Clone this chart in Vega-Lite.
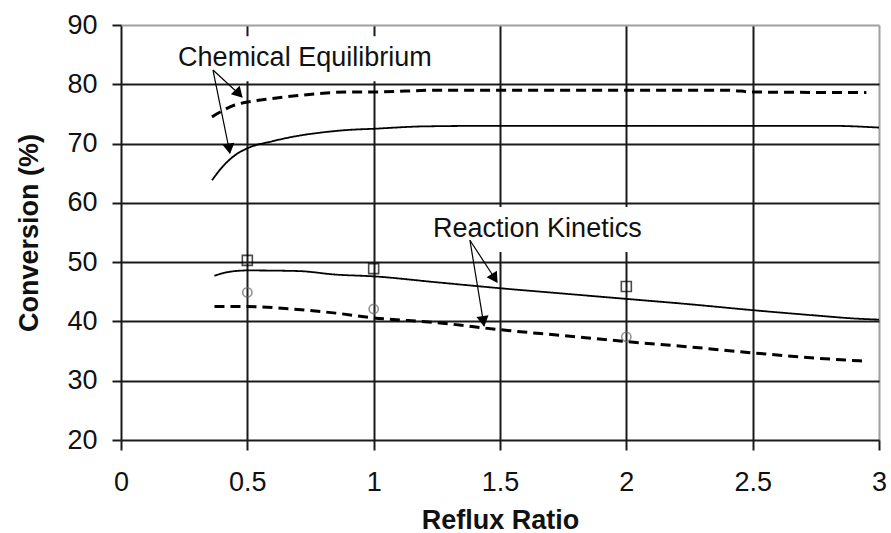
{
  "$schema": "https://vega.github.io/schema/vega-lite/v6.json",
  "width": 758,
  "height": 415,
  "autosize": {"type": "none"},
  "padding": {"left": 121, "top": 25, "right": 12, "bottom": 93},
  "background": "white",
  "config": {"view": {"stroke": null}, "font": "Liberation Sans"},
  "datasets": {
    "curves": [
      {"model": "Chemical Equilibrium", "case": "A", "ratio": 0.36, "conv": 63.8},
      {"model": "Chemical Equilibrium", "case": "A", "ratio": 0.4, "conv": 66.0},
      {"model": "Chemical Equilibrium", "case": "A", "ratio": 0.45, "conv": 68.0},
      {"model": "Chemical Equilibrium", "case": "A", "ratio": 0.5, "conv": 69.2},
      {"model": "Chemical Equilibrium", "case": "A", "ratio": 0.6, "conv": 70.4},
      {"model": "Chemical Equilibrium", "case": "A", "ratio": 0.7, "conv": 71.3},
      {"model": "Chemical Equilibrium", "case": "A", "ratio": 0.8, "conv": 71.9},
      {"model": "Chemical Equilibrium", "case": "A", "ratio": 0.9, "conv": 72.3},
      {"model": "Chemical Equilibrium", "case": "A", "ratio": 1.0, "conv": 72.5},
      {"model": "Chemical Equilibrium", "case": "A", "ratio": 1.2, "conv": 72.9},
      {"model": "Chemical Equilibrium", "case": "A", "ratio": 1.5, "conv": 73.0},
      {"model": "Chemical Equilibrium", "case": "A", "ratio": 2.0, "conv": 73.0},
      {"model": "Chemical Equilibrium", "case": "A", "ratio": 2.5, "conv": 73.0},
      {"model": "Chemical Equilibrium", "case": "A", "ratio": 2.8, "conv": 73.0},
      {"model": "Chemical Equilibrium", "case": "A", "ratio": 3.0, "conv": 72.7},
      {"model": "Chemical Equilibrium", "case": "B", "ratio": 0.36, "conv": 74.5},
      {"model": "Chemical Equilibrium", "case": "B", "ratio": 0.4, "conv": 75.5},
      {"model": "Chemical Equilibrium", "case": "B", "ratio": 0.45, "conv": 76.5},
      {"model": "Chemical Equilibrium", "case": "B", "ratio": 0.5, "conv": 77.0},
      {"model": "Chemical Equilibrium", "case": "B", "ratio": 0.6, "conv": 77.6},
      {"model": "Chemical Equilibrium", "case": "B", "ratio": 0.7, "conv": 78.1},
      {"model": "Chemical Equilibrium", "case": "B", "ratio": 0.8, "conv": 78.5},
      {"model": "Chemical Equilibrium", "case": "B", "ratio": 0.9, "conv": 78.7},
      {"model": "Chemical Equilibrium", "case": "B", "ratio": 1.0, "conv": 78.7},
      {"model": "Chemical Equilibrium", "case": "B", "ratio": 1.25, "conv": 79.0},
      {"model": "Chemical Equilibrium", "case": "B", "ratio": 1.5, "conv": 79.0},
      {"model": "Chemical Equilibrium", "case": "B", "ratio": 2.0, "conv": 79.0},
      {"model": "Chemical Equilibrium", "case": "B", "ratio": 2.4, "conv": 79.0},
      {"model": "Chemical Equilibrium", "case": "B", "ratio": 2.5, "conv": 78.7},
      {"model": "Chemical Equilibrium", "case": "B", "ratio": 2.95, "conv": 78.6},
      {"model": "Reaction Kinetics", "case": "A", "ratio": 0.37, "conv": 47.7},
      {"model": "Reaction Kinetics", "case": "A", "ratio": 0.42, "conv": 48.3},
      {"model": "Reaction Kinetics", "case": "A", "ratio": 0.5, "conv": 48.6},
      {"model": "Reaction Kinetics", "case": "A", "ratio": 0.7, "conv": 48.5},
      {"model": "Reaction Kinetics", "case": "A", "ratio": 0.85, "conv": 47.9},
      {"model": "Reaction Kinetics", "case": "A", "ratio": 1.0, "conv": 47.6},
      {"model": "Reaction Kinetics", "case": "A", "ratio": 1.25, "conv": 46.6},
      {"model": "Reaction Kinetics", "case": "A", "ratio": 1.5, "conv": 45.6},
      {"model": "Reaction Kinetics", "case": "A", "ratio": 1.75, "conv": 44.7},
      {"model": "Reaction Kinetics", "case": "A", "ratio": 2.0, "conv": 43.8},
      {"model": "Reaction Kinetics", "case": "A", "ratio": 2.25, "conv": 42.9},
      {"model": "Reaction Kinetics", "case": "A", "ratio": 2.5, "conv": 41.9},
      {"model": "Reaction Kinetics", "case": "A", "ratio": 2.75, "conv": 41.0},
      {"model": "Reaction Kinetics", "case": "A", "ratio": 2.9, "conv": 40.5},
      {"model": "Reaction Kinetics", "case": "A", "ratio": 3.0, "conv": 40.3},
      {"model": "Reaction Kinetics", "case": "B", "ratio": 0.37, "conv": 42.5},
      {"model": "Reaction Kinetics", "case": "B", "ratio": 0.5, "conv": 42.5},
      {"model": "Reaction Kinetics", "case": "B", "ratio": 0.7, "conv": 42.0},
      {"model": "Reaction Kinetics", "case": "B", "ratio": 0.85, "conv": 41.4},
      {"model": "Reaction Kinetics", "case": "B", "ratio": 1.0, "conv": 40.6},
      {"model": "Reaction Kinetics", "case": "B", "ratio": 1.25, "conv": 39.8},
      {"model": "Reaction Kinetics", "case": "B", "ratio": 1.5, "conv": 38.6},
      {"model": "Reaction Kinetics", "case": "B", "ratio": 1.75, "conv": 37.6},
      {"model": "Reaction Kinetics", "case": "B", "ratio": 2.0, "conv": 36.6},
      {"model": "Reaction Kinetics", "case": "B", "ratio": 2.25, "conv": 35.7},
      {"model": "Reaction Kinetics", "case": "B", "ratio": 2.5, "conv": 34.7},
      {"model": "Reaction Kinetics", "case": "B", "ratio": 2.75, "conv": 33.8},
      {"model": "Reaction Kinetics", "case": "B", "ratio": 2.95, "conv": 33.3}
    ],
    "experiments": [
      {"case": "A", "ratio": 0.5, "conv": 50.3},
      {"case": "A", "ratio": 1.0, "conv": 48.9},
      {"case": "A", "ratio": 2.0, "conv": 45.9},
      {"case": "B", "ratio": 0.5, "conv": 44.9},
      {"case": "B", "ratio": 1.0, "conv": 42.1},
      {"case": "B", "ratio": 2.0, "conv": 37.4}
    ],
    "labels": [
      {"label": "Chemical Equilibrium", "ratio": 0.226, "conv": 83.1, "x1": 0.19, "x2": 1.3, "y1": 80.5, "y2": 88.1},
      {"label": "Reaction Kinetics", "ratio": 1.235, "conv": 54.2, "x1": 1.215, "x2": 2.13, "y1": 51.7, "y2": 59.3}
    ],
    "arrows": [
      {"label": "Chemical Equilibrium", "ratio": 0.364, "conv": 82.4, "tipRatio": 0.479, "tipConv": 77.9},
      {"label": "Chemical Equilibrium", "ratio": 0.364, "conv": 82.4, "tipRatio": 0.431, "tipConv": 68.4},
      {"label": "Reaction Kinetics", "ratio": 1.381, "conv": 53.7, "tipRatio": 1.488, "tipConv": 46.7},
      {"label": "Reaction Kinetics", "ratio": 1.381, "conv": 53.7, "tipRatio": 1.437, "tipConv": 39.2}
    ]
  },
  "layer": [
    {
      "data": {"name": "labels"},
      "mark": {"type": "rect", "color": "white"},
      "encoding": {
        "x": {"field": "x1", "type": "quantitative", "scale": {"domain": [0, 3], "nice": false, "zero": false},
          "axis": {
            "zindex": 0,
            "values": [0, 0.5, 1, 1.5, 2, 2.5, 3],
            "format": "~g",
            "title": "Reflux Ratio",
            "grid": true,
            "gridColor": {"condition": {"test": "datum.value === 3", "value": "#a0a0a0"}, "value": "#1a1a1a"},
            "gridWidth": 2,
            "domain": false,
            "tickColor": "#1a1a1a",
            "tickWidth": 2,
            "tickSize": 10,
            "labelFontSize": 27,
            "labelColor": "#111",
            "labelPadding": 40,
            "labelBaseline": "alphabetic",
            "labelFlush": false,
            "labelOverlap": false,
            "titleFontSize": 27,
            "titleFontWeight": "bold",
            "titleColor": "#111",
            "titleBaseline": "alphabetic",
            "titleY": 88
          }},
        "x2": {"field": "x2"},
        "y": {"field": "y1", "type": "quantitative", "scale": {"domain": [20, 90], "nice": false, "zero": false},
          "axis": {
            "zindex": 0,
            "values": [20, 30, 40, 50, 60, 70, 80, 90],
            "title": "Conversion (%)",
            "grid": true,
            "gridColor": {"condition": {"test": "datum.value === 90", "value": "#a0a0a0"}, "value": "#1a1a1a"},
            "gridWidth": 2,
            "domain": false,
            "tickColor": "#1a1a1a",
            "tickWidth": 2,
            "tickSize": 9,
            "labelFontSize": 27,
            "labelColor": "#111",
            "labelPadding": 15,
            "labelBaseline": "middle",
            "labelFlush": false,
            "labelOverlap": false,
            "titleFontSize": 27,
            "titleFontWeight": "bold",
            "titleColor": "#111",
            "titleAngle": -90,
            "titleAlign": "center",
            "titleBaseline": "alphabetic",
            "titleX": -84,
            "titleY": 207.5
          }},
        "y2": {"field": "y2"}
      }
    },
    {
      "data": {"name": "curves"},
      "mark": {"type": "line", "color": "black", "interpolate": "monotone"},
      "encoding": {
        "x": {"field": "ratio", "type": "quantitative"},
        "y": {"field": "conv", "type": "quantitative"},
        "detail": {"field": "model"},
        "strokeDash": {"field": "case", "type": "nominal", "scale": {"domain": ["A", "B"], "range": [[1, 0], [10, 6]]}, "legend": null},
        "strokeWidth": {"field": "case", "type": "nominal", "scale": {"domain": ["A", "B"], "range": [1.8, 3]}, "legend": null}
      }
    },
    {
      "data": {"name": "experiments"},
      "mark": {"type": "point", "filled": false, "strokeWidth": 1.6},
      "encoding": {
        "x": {"field": "ratio", "type": "quantitative"},
        "y": {"field": "conv", "type": "quantitative"},
        "shape": {"field": "case", "type": "nominal", "scale": {"domain": ["A", "B"], "range": ["square", "circle"]}, "legend": null},
        "color": {"field": "case", "type": "nominal", "scale": {"domain": ["A", "B"], "range": ["#000", "#666"]}, "legend": null},
        "size": {"field": "case", "type": "nominal", "scale": {"domain": ["A", "B"], "range": [100, 85]}, "legend": null}
      }
    },
    {
      "data": {"name": "arrows"},
      "mark": {"type": "rule", "color": "black", "strokeWidth": 1.2},
      "encoding": {
        "x": {"field": "ratio", "type": "quantitative"},
        "y": {"field": "conv", "type": "quantitative"},
        "x2": {"field": "tipRatio"},
        "y2": {"field": "tipConv"}
      }
    },
    {
      "data": {"values": [{"ratio": 0.462, "conv": 78.6}]},
      "mark": {"type": "point", "shape": "triangle", "angle": 136, "filled": true, "color": "black", "size": 150, "opacity": 1},
      "encoding": {"x": {"field": "ratio", "type": "quantitative"}, "y": {"field": "conv", "type": "quantitative"}}
    },
    {
      "data": {"values": [{"ratio": 0.427, "conv": 69.4}]},
      "mark": {"type": "point", "shape": "triangle", "angle": 171, "filled": true, "color": "black", "size": 150, "opacity": 1},
      "encoding": {"x": {"field": "ratio", "type": "quantitative"}, "y": {"field": "conv", "type": "quantitative"}}
    },
    {
      "data": {"values": [{"ratio": 1.475, "conv": 47.5}]},
      "mark": {"type": "point", "shape": "triangle", "angle": 147, "filled": true, "color": "black", "size": 150, "opacity": 1},
      "encoding": {"x": {"field": "ratio", "type": "quantitative"}, "y": {"field": "conv", "type": "quantitative"}}
    },
    {
      "data": {"values": [{"ratio": 1.433, "conv": 40.3}]},
      "mark": {"type": "point", "shape": "triangle", "angle": 171, "filled": true, "color": "black", "size": 150, "opacity": 1},
      "encoding": {"x": {"field": "ratio", "type": "quantitative"}, "y": {"field": "conv", "type": "quantitative"}}
    },
    {
      "data": {"name": "labels"},
      "mark": {"type": "text", "align": "left", "baseline": "alphabetic", "fontSize": 27, "color": "#111"},
      "encoding": {
        "x": {"field": "ratio", "type": "quantitative"},
        "y": {"field": "conv", "type": "quantitative"},
        "text": {"field": "label"}
      }
    }
  ]
}
